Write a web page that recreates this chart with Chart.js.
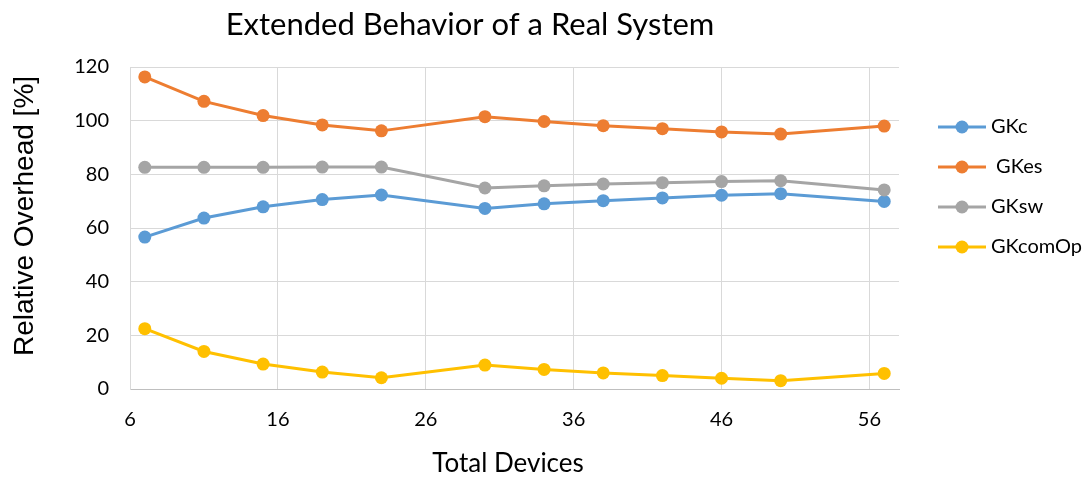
<!DOCTYPE html>
<html>
<head>
<meta charset="utf-8">
<title>Extended Behavior of a Real System</title>
<script src="https://cdn.jsdelivr.net/npm/chart.js@4.4.1/dist/chart.umd.min.js"></script>
<style>
  html, body { margin: 0; padding: 0; background: #ffffff; }
  #wrap { position: relative; width: 1086px; height: 477px; }
</style>
</head>
<body>
<div id="wrap"><canvas id="chart" width="1086" height="477"></canvas></div>
<script>
// Total devices in the system (x values)
const devices = [7, 11, 15, 19, 23, 30, 34, 38, 42, 46, 50, 57];

// Relative overhead [%] per configuration
const gkc     = [56.6, 63.7, 67.9, 70.6, 72.3, 67.3, 69.0, 70.2, 71.2, 72.2, 72.8, 69.9];
const gkes    = [116.3, 107.2, 101.9, 98.4, 96.2, 101.5, 99.7, 98.1, 97.0, 95.8, 95.0, 98.0];
const gksw    = [82.6, 82.6, 82.6, 82.7, 82.7, 74.9, 75.7, 76.4, 76.9, 77.3, 77.6, 74.2];
const gkcomop = [22.5, 14.0, 9.3, 6.3, 4.2, 8.9, 7.3, 6.0, 5.0, 4.0, 3.1, 5.8];

const seriesNames  = ['GKc', ' GKes', 'GKsw', 'GKcomOp'];
const seriesColors = ['#5B9BD5', '#ED7D31', '#A5A5A5', '#FFC000'];

// Axis ticks
const xTicks = [6, 16, 26, 36, 46, 56];
const yTicks = [0, 20, 40, 60, 80, 100, 120];

const titleText  = 'Extended Behavior of a Real System';
const xTitleText = 'Total Devices';
const yTitleText = 'Relative Overhead [%]';

const labelFont = 'Lato, "Open Sans", sans-serif';

function toPoints(values) {
  return devices.map((d, i) => ({ x: d, y: values[i] }));
}

const allSeries = [gkc, gkes, gksw, gkcomop];
const datasets = allSeries.map((vals, i) => ({
  label: seriesNames[i],
  data: toPoints(vals),
  borderColor: seriesColors[i],
  backgroundColor: seriesColors[i],
  pointBackgroundColor: seriesColors[i],
  pointBorderWidth: 0,
  pointRadius: 6.5,
  pointHoverRadius: 6.5,
  borderWidth: 3,
  tension: 0,
  order: allSeries.length - i
}));

// Chart title, axis titles and the line-with-marker legend
const decorations = {
  id: 'decorations',
  afterDraw(chart) {
    const ctx = chart.ctx;
    ctx.save();
    ctx.fillStyle = '#000000';

    ctx.font = '31px ' + labelFont;
    ctx.textAlign = 'center';
    ctx.textBaseline = 'alphabetic';
    ctx.fillText(titleText, 470, 35);

    ctx.font = '26px ' + labelFont;
    ctx.fillText(xTitleText, 508, 472);

    ctx.save();
    ctx.translate(33, 216);
    ctx.rotate(-Math.PI / 2);
    ctx.font = '28px "Liberation Sans", Arial, sans-serif';
    ctx.fillText(yTitleText, 0, 0);
    ctx.restore();

    const legendY = [127, 167, 207, 247];
    chart.data.datasets.forEach((ds, i) => {
      const y = legendY[i];
      ctx.strokeStyle = ds.borderColor;
      ctx.lineWidth = 3;
      ctx.beginPath();
      ctx.moveTo(938, y);
      ctx.lineTo(986, y);
      ctx.stroke();
      ctx.fillStyle = ds.borderColor;
      ctx.beginPath();
      ctx.arc(962, y, 6.5, 0, Math.PI * 2);
      ctx.fill();
      ctx.fillStyle = '#000000';
      ctx.font = '20px ' + labelFont;
      ctx.textAlign = 'left';
      ctx.textBaseline = 'middle';
      ctx.fillText(ds.label, 991, y);
    });
    ctx.restore();
  }
};

new Chart(document.getElementById('chart'), {
  type: 'line',
  data: { datasets },
  plugins: [decorations],
  options: {
    responsive: false,
    animation: false,
    events: [],
    layout: { padding: { top: 67, right: 187, left: 0, bottom: 0 } },
    plugins: {
      legend: { display: false },
      title: { display: false },
      tooltip: { enabled: false }
    },
    scales: {
      x: {
        type: 'linear',
        min: 6,
        max: 58,
        afterBuildTicks: (scale) => { scale.ticks = xTicks.map(v => ({ value: v })); },
        afterFit: (scale) => { scale.height = 88; },
        ticks: { color: '#000000', font: { family: labelFont, size: 20 }, padding: 19, maxRotation: 0, autoSkip: false },
        grid: { color: '#d9d9d9', lineWidth: 1, drawTicks: false },
        border: { color: '#bfbfbf', width: 1 }
      },
      y: {
        min: 0,
        max: 120,
        afterBuildTicks: (scale) => { scale.ticks = yTicks.map(v => ({ value: v })); },
        afterFit: (scale) => { scale.width = 130; },
        ticks: { color: '#000000', font: { family: labelFont, size: 20 }, padding: 21 },
        grid: { color: '#d9d9d9', lineWidth: 1, drawTicks: false },
        border: { color: '#d9d9d9', width: 1 }
      }
    }
  }
});
</script>
</body>
</html>
